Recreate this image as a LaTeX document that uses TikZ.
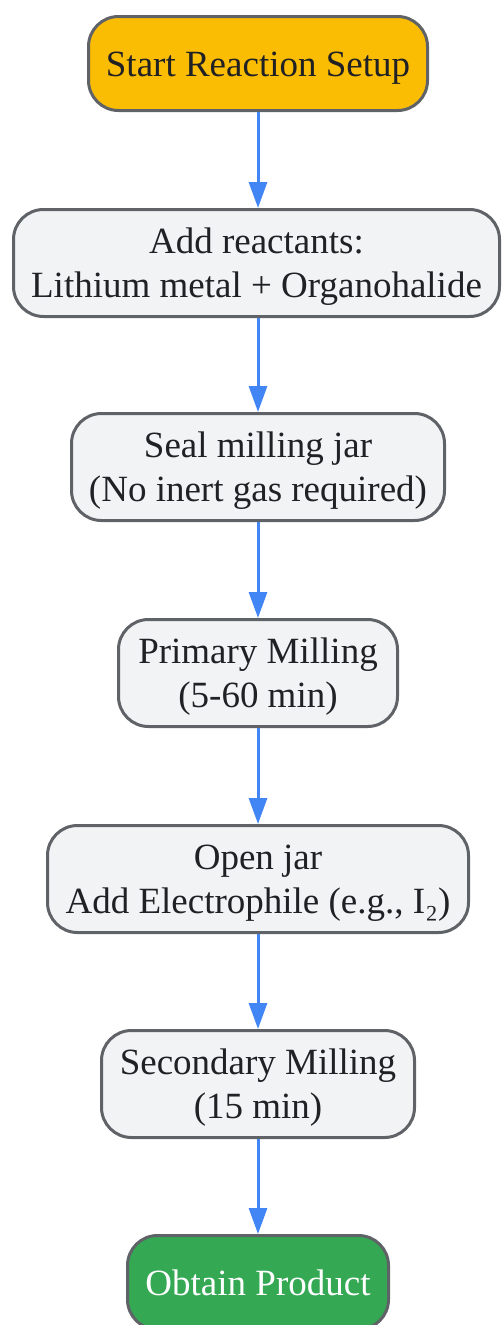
\documentclass[tikz,border=0pt]{standalone}
\usepackage{fontspec}
\setmainfont{Liberation Serif}
\usetikzlibrary{arrows.meta}
\definecolor{startY}{HTML}{FBBC04}
\definecolor{endG}{HTML}{34A853}
\definecolor{boxF}{HTML}{F1F3F4}
\definecolor{boxB}{HTML}{5F6368}
\definecolor{arrB}{HTML}{4285F4}
\definecolor{txt}{HTML}{202124}
\newcommand\topstrut{\rule{0pt}{34pt}}
\newcommand\botstrut{\rule[-9pt]{0pt}{9pt}}
\tikzset{
  stepbox/.style={draw=boxB, line width=3pt, fill=boxF, rounded corners=30pt,
    align=center, text=txt, font=\fontsize{37}{44}\selectfont,
    minimum height=107pt, inner sep=0pt},
  termbox/.style={stepbox, minimum height=94pt},
  flow/.style={draw=arrB, line width=3pt, -{Triangle[length=26pt,width=18pt]}}
}
\begin{document}
\begin{tikzpicture}[x=1pt,y=-1pt]
\useasboundingbox (0,0) rectangle (502,1325);
\node[termbox, fill=startY, minimum width=339pt] (start) at (258,63.5) {\topstrut Start Reaction Setup\botstrut};
\node[stepbox, minimum width=486pt] (add) at (256.5,263) {\topstrut Add reactants:\\Lithium metal + Organohalide\botstrut};
\node[stepbox, minimum width=373pt] (seal) at (258,467) {\topstrut Seal milling jar\\(No inert gas required)\botstrut};
\node[stepbox, minimum width=279pt] (prim) at (258,673) {\topstrut Primary Milling\\(5-60 min)\botstrut};
\node[stepbox, minimum width=421pt] (open) at (258,879) {\topstrut Open jar\\Add Electrophile (e.g., I₂)\botstrut};
\node[stepbox, minimum width=313pt] (sec) at (258,1084) {\topstrut Secondary Milling\\(15 min)\botstrut};
\node[termbox, fill=endG, text=white, minimum width=261pt] (end) at (258,1282.5) {\topstrut Obtain Product\botstrut};
\draw[flow] (start.south -| 258,0) -- (add.north -| 258,0);
\draw[flow] (add.south -| 258,0) -- (seal.north);
\draw[flow] (seal) -- (prim);
\draw[flow] (prim) -- (open);
\draw[flow] (open) -- (sec);
\draw[flow] (sec) -- (end);
\end{tikzpicture}
\end{document}
